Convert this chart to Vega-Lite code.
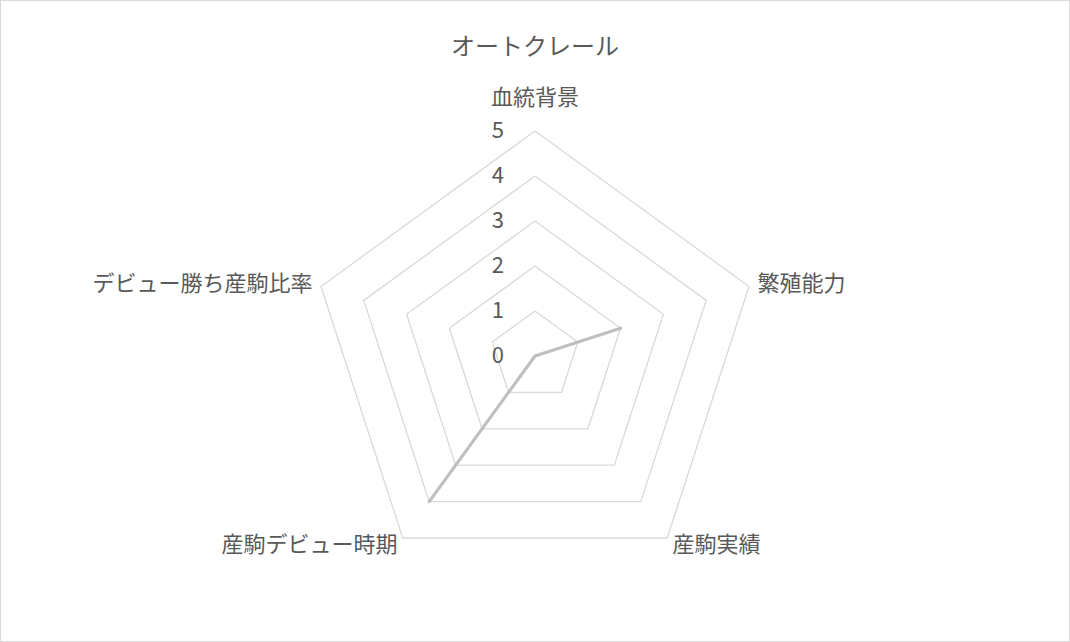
{
  "$schema": "https://vega.github.io/schema/vega-lite/v6.json",
  "width": 1070,
  "height": 642,
  "autosize": {"type": "none"},
  "padding": 0,
  "background": "white",
  "config": {
    "view": {"stroke": "#D9D9D9", "strokeWidth": 2},
    "font": "Noto Sans CJK JP",
    "text": {"font": "Noto Sans CJK JP"}
  },
  "title": {
    "text": "オートクレール",
    "font": "Noto Sans CJK JP",
    "fontSize": 24,
    "fontWeight": "normal",
    "color": "#595959",
    "offset": -60
  },
  "datasets": {
    "scores": [
      {"axis": "血統背景", "k": 0, "value": 0},
      {"axis": "繁殖能力", "k": 1, "value": 2},
      {"axis": "産駒実績", "k": 2, "value": 0},
      {"axis": "産駒デビュー時期", "k": 3, "value": 4},
      {"axis": "デビュー勝ち産駒比率", "k": 4, "value": 0}
    ],
    "grid": [
      {"level": 1, "k": [0, 1, 2, 3, 4, 5]},
      {"level": 2, "k": [0, 1, 2, 3, 4, 5]},
      {"level": 3, "k": [0, 1, 2, 3, 4, 5]},
      {"level": 4, "k": [0, 1, 2, 3, 4, 5]},
      {"level": 5, "k": [0, 1, 2, 3, 4, 5]}
    ],
    "ticks": [
      {"level": 0}, {"level": 1}, {"level": 2},
      {"level": 3}, {"level": 4}, {"level": 5}
    ]
  },
  "layer": [
    {
      "data": {"name": "grid"},
      "transform": [
        {"flatten": ["k"]},
        {"calculate": "datum.k * 2 * PI / 5", "as": "theta"},
        {"calculate": "datum.level * sin(datum.theta)", "as": "x"},
        {"calculate": "datum.level * cos(datum.theta)", "as": "y"}
      ],
      "mark": {"type": "line", "color": "#D9D9D9", "strokeWidth": 1.3},
      "encoding": {
        "x": {"field": "x", "type": "quantitative", "axis": null,
              "scale": {"domain": [-11.889, 11.889], "nice": false, "zero": false}},
        "y": {"field": "y", "type": "quantitative", "axis": null,
              "scale": {"domain": [-6.356, 7.911], "nice": false, "zero": false}},
        "detail": {"field": "level"},
        "order": {"field": "k", "type": "quantitative"}
      }
    },
    {
      "data": {"name": "scores"},
      "transform": [
        {"calculate": "datum.k * 2 * PI / 5", "as": "theta"},
        {"calculate": "datum.value * sin(datum.theta)", "as": "x"},
        {"calculate": "datum.value * cos(datum.theta)", "as": "y"}
      ],
      "mark": {"type": "line", "color": "#BFBFBF", "strokeWidth": 3.2,
               "strokeCap": "round", "strokeJoin": "round"},
      "encoding": {
        "x": {"field": "x", "type": "quantitative"},
        "y": {"field": "y", "type": "quantitative"},
        "order": {"field": "k", "type": "quantitative"}
      }
    },
    {
      "data": {"name": "ticks"},
      "mark": {"type": "text", "align": "right", "baseline": "middle",
               "dx": -31, "fontSize": 22, "color": "#595959"},
      "encoding": {
        "x": {"datum": 0, "type": "quantitative"},
        "y": {"field": "level", "type": "quantitative"},
        "text": {"field": "level"}
      }
    },
    {
      "data": {"name": "scores"},
      "transform": [
        {"filter": "datum.k == 0"},
        {"calculate": "5.2 * sin(datum.k * 2 * PI / 5)", "as": "lx"},
        {"calculate": "5.2 * cos(datum.k * 2 * PI / 5)", "as": "ly"}
      ],
      "mark": {"type": "text", "align": "center", "baseline": "bottom",
               "dy": -12, "fontSize": 22, "color": "#595959"},
      "encoding": {
        "x": {"field": "lx", "type": "quantitative"},
        "y": {"field": "ly", "type": "quantitative"},
        "text": {"field": "axis"}
      }
    },
    {
      "data": {"name": "scores"},
      "transform": [
        {"filter": "datum.k == 1 || datum.k == 2"},
        {"calculate": "5.2 * sin(datum.k * 2 * PI / 5)", "as": "lx"},
        {"calculate": "5.2 * cos(datum.k * 2 * PI / 5)", "as": "ly"}
      ],
      "mark": {"type": "text", "align": "left", "baseline": "middle",
               "fontSize": 22, "color": "#595959"},
      "encoding": {
        "x": {"field": "lx", "type": "quantitative"},
        "y": {"field": "ly", "type": "quantitative"},
        "text": {"field": "axis"}
      }
    },
    {
      "data": {"name": "scores"},
      "transform": [
        {"filter": "datum.k == 3 || datum.k == 4"},
        {"calculate": "5.2 * sin(datum.k * 2 * PI / 5)", "as": "lx"},
        {"calculate": "5.2 * cos(datum.k * 2 * PI / 5)", "as": "ly"}
      ],
      "mark": {"type": "text", "align": "right", "baseline": "middle",
               "fontSize": 22, "color": "#595959"},
      "encoding": {
        "x": {"field": "lx", "type": "quantitative"},
        "y": {"field": "ly", "type": "quantitative"},
        "text": {"field": "axis"}
      }
    }
  ]
}
